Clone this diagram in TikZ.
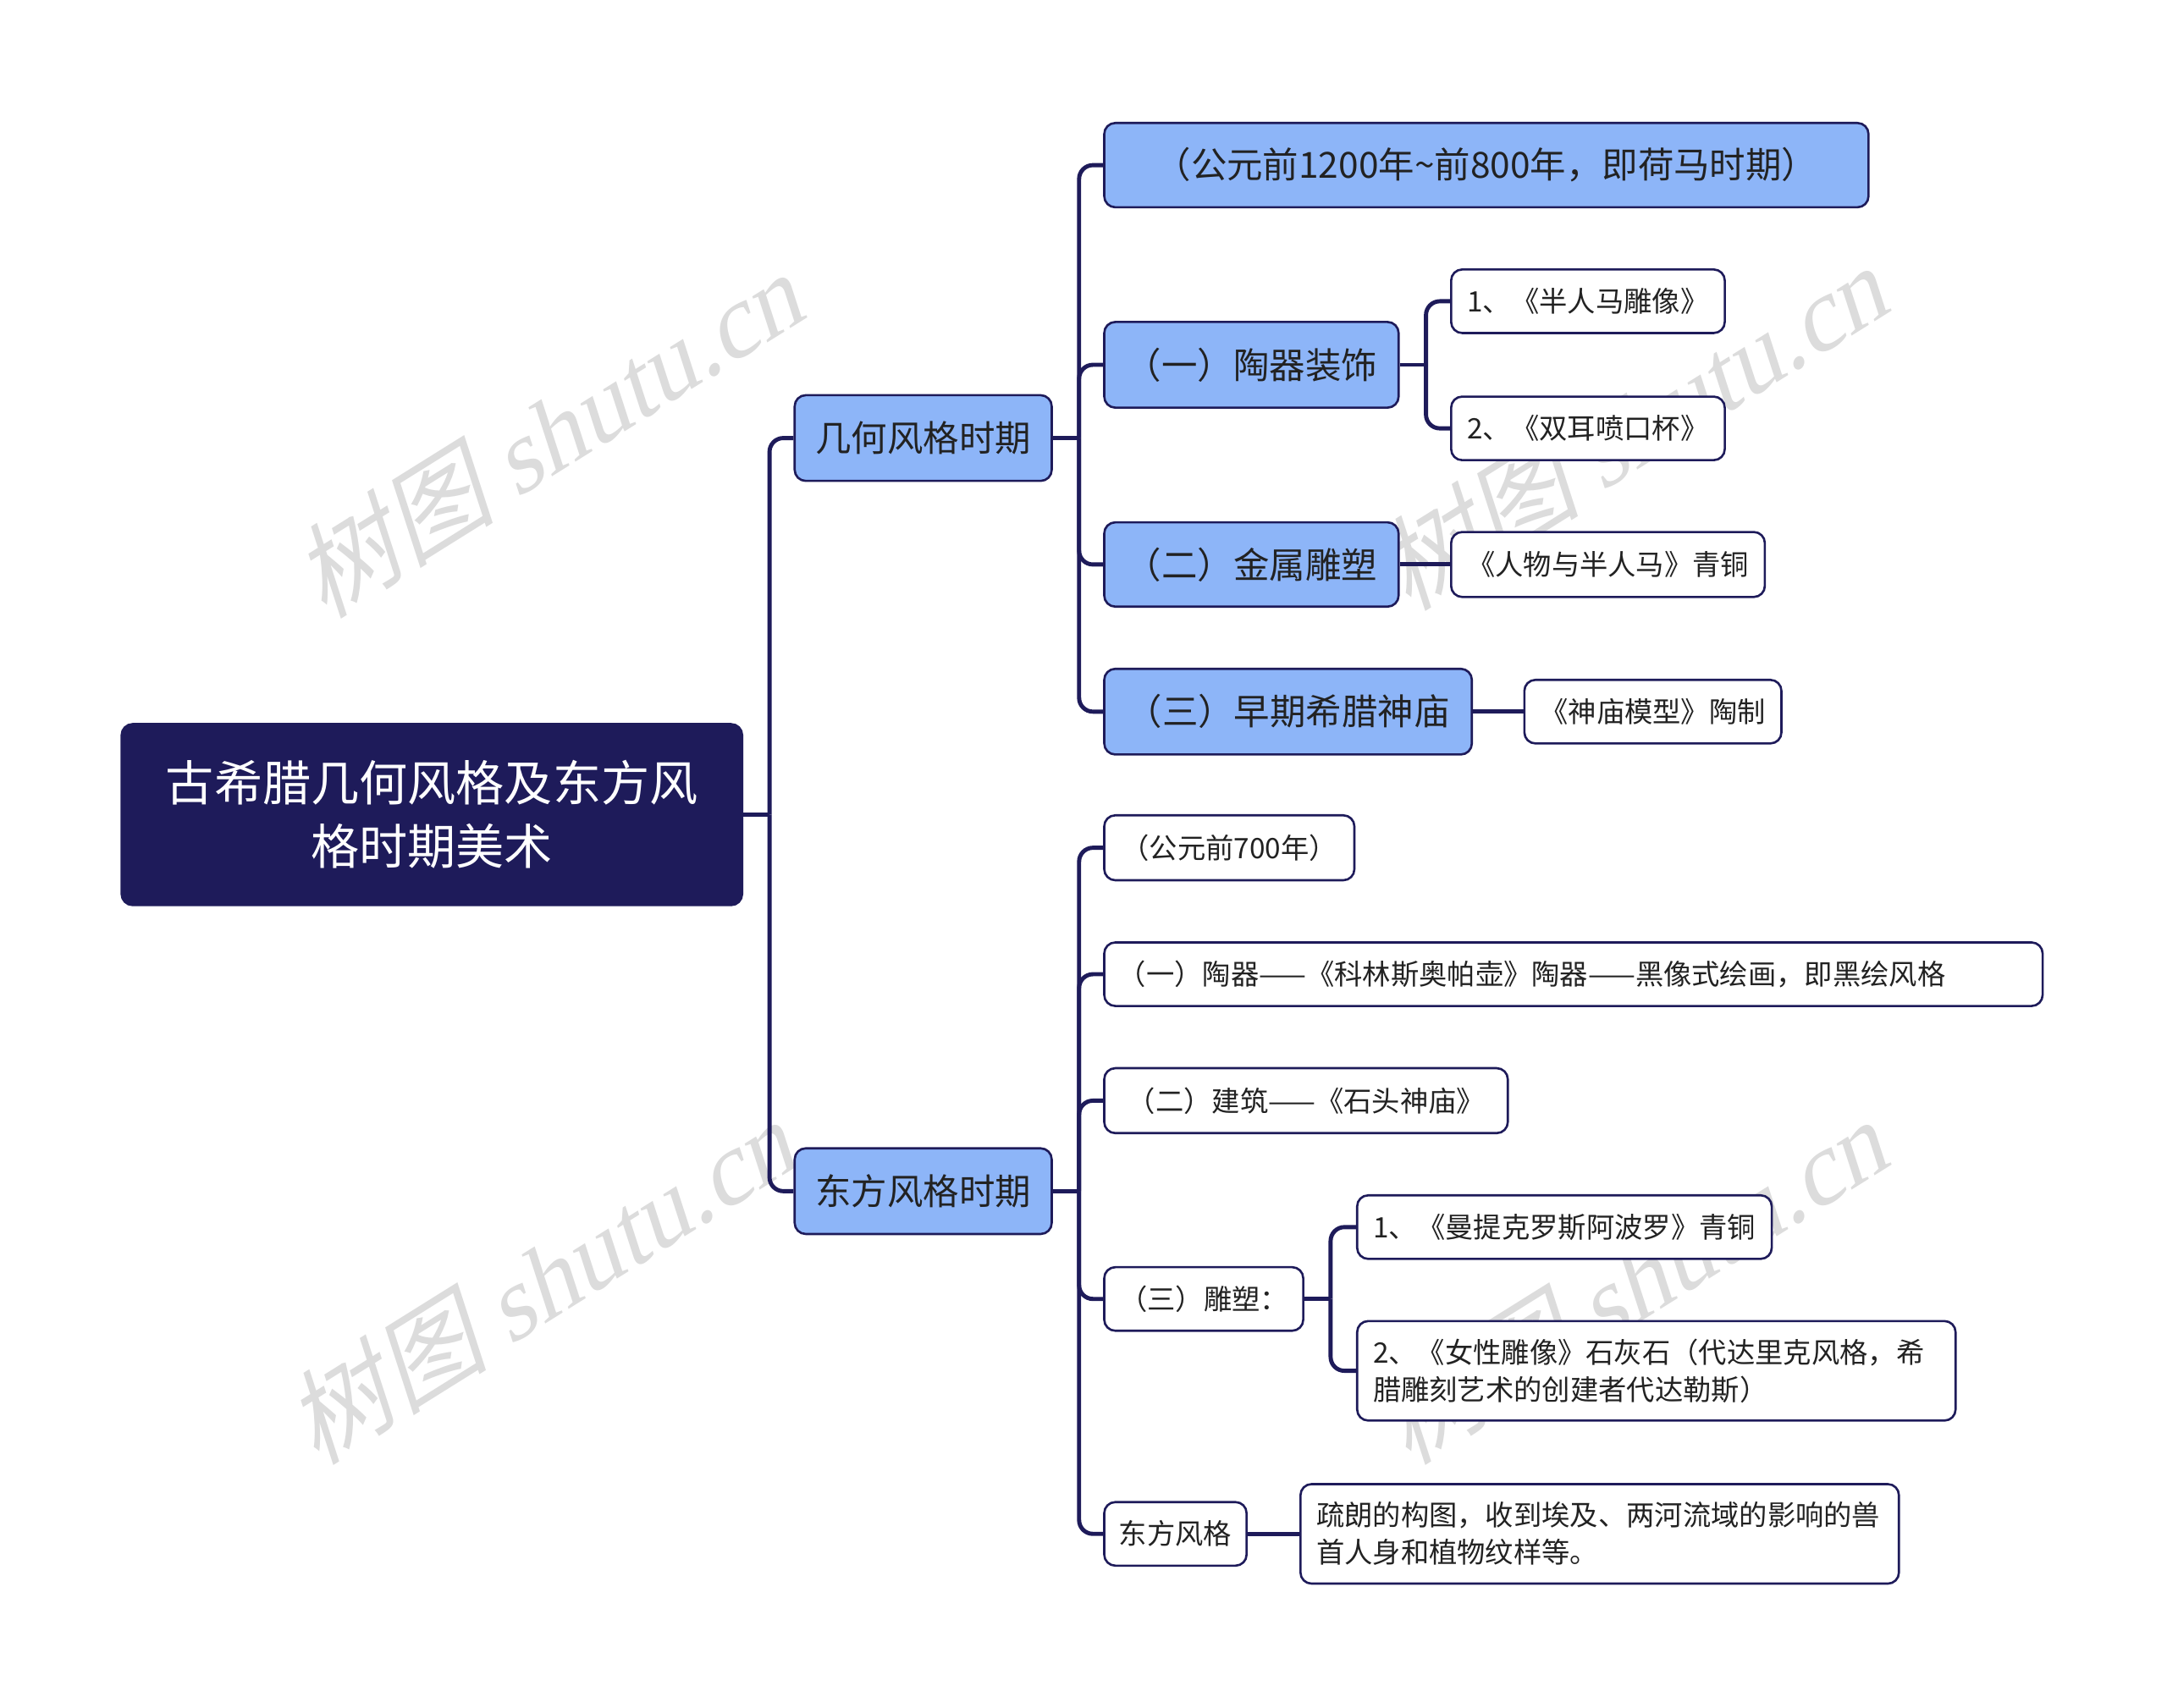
\documentclass[tikz,border=0pt]{standalone}
\usepackage{fontspec}
\setmainfont{Noto Sans CJK SC}
\newfontfamily\wmserif[FakeSlant=0.25]{Liberation Serif}
\newfontfamily\wmcjk[FakeSlant=0.25]{Noto Sans CJK SC}
\usetikzlibrary{calc}
\definecolor{navy}{HTML}{1E1B5A}
\definecolor{lblue}{HTML}{8DB5F8}
\definecolor{txt}{HTML}{222222}
\definecolor{wm}{HTML}{DCDCDC}
\begin{document}
\begin{tikzpicture}[x=0.5pt,y=-0.5pt,
 base/.style={draw=navy,line width=0.8pt,rounded corners=4pt,inner sep=0pt,text=txt,align=center},
 rootbox/.style={base,fill=navy,text=white,font=\fontsize{17.5}{23}\selectfont},
 bluebox/.style={base,fill=lblue,font=\fontsize{13}{16}\selectfont},
 whitebox/.style={base,fill=white,font=\fontsize{10.2}{13.5}\selectfont},
 conn/.style={draw=navy,line width=1.5pt,rounded corners=5pt},
 wmtext/.style={text=wm,rotate=32,font=\fontsize{37}{40}\selectfont}]
\useasboundingbox[fill=white] (0,0) rectangle (1568,1236);
% watermarks
\node[wmtext] (wm1) at (395,315) {{\wmcjk 树图} {\wmserif shutu.cn}};
\node[wmtext] (wm2) at (390,928) {{\wmcjk 树图} {\wmserif shutu.cn}};
\node[wmtext] (wm3) at (1180,310) {{\wmcjk 树图} {\wmserif shutu.cn}};
\node[wmtext] (wm4) at (1180,928) {{\wmcjk 树图} {\wmserif shutu.cn}};
% nodes
\node[rootbox,minimum width=224.5pt,minimum height=65.5pt] (root) at (312.5,589.5) {古希腊几何风格及东方风\\格时期美术};
\node[bluebox,minimum width=93pt,minimum height=31pt] (geo) at (668,317) {几何风格时期};
\node[bluebox,minimum width=93pt,minimum height=31pt] (east) at (668,862) {东方风格时期};
\node[bluebox,minimum width=276.5pt,minimum height=30.5pt] (g0) at (1075.5,119.5) {（公元前1200年\textasciitilde 前800年，即荷马时期）};
\node[bluebox,minimum width=106.5pt,minimum height=31pt] (g1) at (905.5,264) {（一）陶器装饰};
\node[bluebox,minimum width=106.5pt,minimum height=30.5pt] (g2) at (905.5,408.5) {（二）金属雕塑};
\node[bluebox,minimum width=133pt,minimum height=31pt] (g3) at (932,515) {（三）早期希腊神庙};
\node[whitebox,minimum width=99pt,minimum height=23pt] (g1a) at (1149,218) {1、《半人马雕像》};
\node[whitebox,minimum width=99pt,minimum height=23pt] (g1b) at (1149,310) {2、《双耳喷口杯》};
\node[whitebox,minimum width=113.5pt,minimum height=23.5pt] (g2a) at (1163.5,408.5) {《人物与半人马》青铜};
\node[whitebox,minimum width=93pt,minimum height=23pt] (g3a) at (1196,515) {《神庙模型》陶制};
\node[whitebox,minimum width=90.5pt,minimum height=23.5pt] (e0) at (889.5,613.5) {（公元前700年）};
\node[whitebox,align=left,text width=329.5pt,inner xsep=5pt,minimum height=23pt] (e1) at (1138.5,705) {（一）陶器——《科林斯奥帕壶》陶器——黑像式绘画，即黑绘风格};
\node[whitebox,minimum width=146pt,minimum height=23.5pt] (e2) at (945,796.5) {（二）建筑——《石头神庙》};
\node[whitebox,minimum width=72pt,minimum height=23pt] (e3) at (871,940) {（三）雕塑：};
\node[whitebox,minimum width=51.5pt,minimum height=23pt] (e4) at (850.5,1110) {东方风格};
\node[whitebox,minimum width=150pt,minimum height=23pt] (e3a) at (1132,888) {1、《曼提克罗斯阿波罗》青铜};
\node[whitebox,align=left,text width=205pt,inner xsep=5.75pt,minimum height=36pt] (e3b) at (1198.5,992) {2、《女性雕像》石灰石（代达里克风格，希\\腊雕刻艺术的创建者代达勒斯）};
\node[whitebox,align=left,text width=205pt,inner xsep=5.75pt,minimum height=36pt] (e4a) at (1157.5,1110) {疏朗的构图，收到埃及、两河流域的影响的兽\\首人身和植物纹样等。};
% connectors
\coordinate (rb) at ($(root.east)+(19,0)$);
\draw[conn] (root.east) -- (rb);
\draw[conn] (rb) |- (geo.west);
\draw[conn] (rb) |- (east.west);
\coordinate (gb) at ($(geo.east)+(19,0)$);
\draw[conn] (geo.east) -- (gb);
\draw[conn] (gb) |- (g0.west);
\draw[conn] (gb) |- (g1.west);
\draw[conn] (gb) |- (g2.west);
\draw[conn] (gb) |- (g3.west);
\coordinate (g1bus) at ($(g1.east)+(19,0)$);
\draw[conn] (g1.east) -- (g1bus);
\draw[conn] (g1bus) |- (g1a.west);
\draw[conn] (g1bus) |- (g1b.west);
\draw[conn] (g2.east) -- (g2a.west);
\draw[conn] (g3.east) -- (g3a.west);
\coordinate (eb) at ($(east.east)+(19,0)$);
\draw[conn] (east.east) -- (eb);
\draw[conn] (eb) |- (e0.west);
\draw[conn] (eb) |- (e1.west);
\draw[conn] (eb) |- (e2.west);
\draw[conn] (eb) |- (e3.west);
\draw[conn] (eb) |- (e4.west);
\coordinate (e3bus) at ($(e3.east)+(19,0)$);
\draw[conn] (e3.east) -- (e3bus);
\draw[conn] (e3bus) |- (e3a.west);
\draw[conn] (e3bus) |- (e3b.west);
\draw[conn] (e4.east) -- (e4a.west);
\end{tikzpicture}
\end{document}
